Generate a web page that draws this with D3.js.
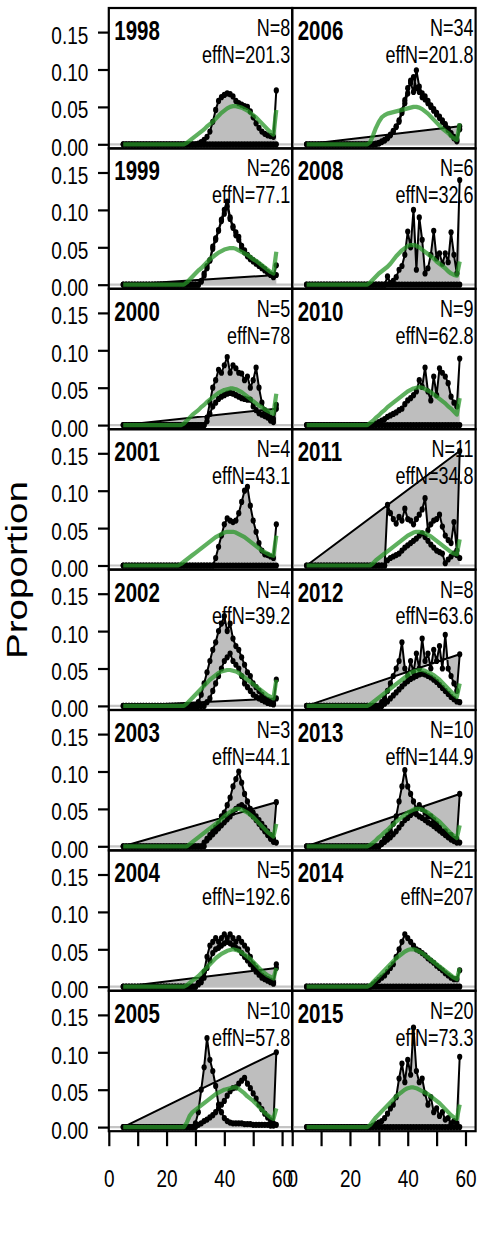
<!DOCTYPE html>
<html>
<head>
<meta charset="utf-8">
<script src="https://cdn.jsdelivr.net/npm/d3@7"></script>
<style>
  body { margin: 0; background: #ffffff; }
  text { font-family: "Liberation Sans", Arial, sans-serif; fill: #000; }
</style>
</head>
<body>
<svg id="chart" width="480" height="1260"></svg>
<script>
// Length bins (cm) shared by every year
const lengthBins = [5,6,7,8,9,10,11,12,13,14,15,16,17,18,19,20,21,22,23,24,25,26,27,28,29,30,31,32,33,34,35,36,37,38,39,40,41,42,43,44,45,46,47,48,49,50,51,52,53,54,55,56,57,58];

const years   = [1998,1999,2000,2001,2002,2003,2004,2005,2006,2008,2010,2011,2012,2013,2014,2015];
const sampleN = [8,26,5,4,4,3,5,10,34,6,9,11,8,10,21,20];
const effN    = ["201.3","77.1","78","43.1","39.2","44.1","192.6","57.8","201.8","32.6","62.8","34.8","63.6","144.9","207","73.3"];

const yTicks = [0, 0.05, 0.10, 0.15];
const xTicks = [0, 10, 20, 30, 40, 50, 60];
const xTickLabels = [0, 20, 40, 60];

// Observed proportions (per mille): first and second sex block; expected fit
const obsA1998 = [0,0,0,0,0,0,0,0,0,0, 0,0,0,0,0,0,0,0,0,0, 0,0,0,0,0,0,0,0,0,0, 0,0,0,0,0,0,0,0,0,0, 0,0,0,0,0,0,0,0,0,0, 0,0,0,0];
const obsB1998 = [0,0,0,0,0,0,0,0,0,0, 0,0,0,0,0,0,0,0,0,0, 0,0,0,0,0,0, 1,3,6,10,17,30,46,58,63,66,68,67,64,58,55,53,51,50,44,36,28,22,17,14,12,11,10,72];
const exp1998  = [0,0,0,0,0,0,0,0,0,0, 0,0,0,0,0,0,0,0,0,0, 0,0, 2,5,8,11,14,17,20,24,27,30,34,38,42,45,48,50,51,51,50,49,47,45,42,39,36,32,28,24,20,16,13,46];

const obsA1999 = [0,0,0,0,0,0,0,0,0,0, 0,0,0,0,0,0,0,0,0,0, 0,0,0,0,0,0,0, 5,15,25,33,51,62,73,87,100,111,90,78,70,64,52,46,40,36,33,30,27,24,21,17,14,12,13];
const obsB1999 = [0,0,0,0,0,0,0,0,0,0, 0,0,0,0,0,0,0,0,0,0, 0,0,0,0,0,0,0, 4,12,22,32,48,60,72,85,95,105,88,76,66,60,48,43,38,34,31,28,25,22,19,16,13,10,26];
const exp1999  = [0,0,0,0,0,0,0,0,0,0, 0,0,0,0,0,0,0,0,0,0, 0,0, 3,7,11,15,19,22,26,30,34,37,40,43,45,47,48,49,49,48,46,44,42,40,37,34,32,29,26,23,20,17,15,44];

const obsA2000 = [0,0,0,0,0,0,0,0,0,0, 0,0,0,0,0,0,0,0,0,0, 0,0,0,0,0,0,0,0,0, 10,30,50,60,74,70,80,91,70,80,76,70,69,60,65,50,60,77,50,30,20,15,10,8,22];
const obsB2000 = [0,0,0,0,0,0,0,0,0,0, 0,0,0,0,0,0,0,0,0,0, 0,0,0,0,0,0,0,0,0, 5,15,25,30,35,38,40,42,43,42,40,38,36,35,34,34,25,20,16,14,12,10,6,4,27];
const exp2000  = [0,0,0,0,0,0,0,0,0,0, 0,0,0,0,0,0,0,0,0,0, 0, 2,6,10,14,17,20,24,27,31,34,37,40,43,45,47,48,49,49,48,46,44,41,38,35,32,29,26,24,21,19,17,15,42];

const obsA2001 = [0,0,0,0,0,0,0,0,0,0, 0,0,0,0,0,0,0,0,0,0, 0,0,0,0,0,0,0,0,0,0, 0,0,0,0,0,0,0,0,0,0, 0,0,0,0,0,0,0,0,0,0, 0,0,0,0];
const obsB2001 = [0,0,0,0,0,0,0,0,0,0, 0,0,0,0,0,0,0,0,0,0, 0,0,0,0,0,0,0,0,0,0, 0,0, 10,25,40,55,63,60,58,60,70,85,100,105,80,60,45,30,20,15,14,12,10,55];
const exp2001  = [0,0,0,0,0,0,0,0,0,0, 0,0,0,0,0,0,0,0,0,0, 2,5,8,11,14,17,20,23,26,29,32,35,38,40,42,44,45,45,45,44,42,40,38,35,32,29,26,23,20,18,16,14,13,40];

const obsA2002 = [0,0,0,0,0,0,0,0,0,0, 0,0,0,0,0,0,0,0,0,0, 0,0,0,0,0,0, 5,15,30,45,60,75,85,100,110,120,100,110,90,80,75,65,55,45,40,30,25,20,15,10,8,5,3,10];
const obsB2002 = [0,0,0,0,0,0,0,0,0,0, 0,0,0,0,0,0,0,0,0,0, 0,0,0,0,0,0,0,0,0, 5,10,20,30,40,50,60,65,70,60,55,50,40,30,25,20,15,12,10,8,6,4,3,2,35];
const exp2002  = [0,0,0,0,0,0,0,0,0,0, 0,0,0,0,0,0,0,0,0,0, 0,0, 3,7,11,15,19,23,27,31,35,38,41,44,46,47,48,48,47,46,44,41,38,35,32,29,26,23,20,17,14,12,10,35];

const obsA2003 = [0,0,0,0,0,0,0,0,0,0, 0,0,0,0,0,0,0,0,0,0, 0,0,0,0,0,0,0,0,0, 10,15,20,25,30,40,45,55,65,80,90,100,85,70,60,50,45,40,35,30,25,20,15,10,59];
const obsB2003 = [0,0,0,0,0,0,0,0,0,0, 0,0,0,0,0,0,0,0,0,0, 0,0,0,0,0,0,0,0, 5,8,12,16,20,24,28,32,36,40,45,50,53,55,52,48,44,40,35,30,25,20,15,10,6,5];
const exp2003  = [0,0,0,0,0,0,0,0,0,0, 0,0,0,0,0,0,0,0,0,0, 0,0,0, 3,6,9,12,15,18,21,24,27,30,33,36,40,43,46,48,50,50,49,47,45,42,39,35,31,27,23,19,16,13,30];

const obsA2004 = [0,0,0,0,0,0,0,0,0,0, 0,0,0,0,0,0,0,0,0,0, 0,0,0,0,0,0, 5,10,20,40,55,60,65,60,65,70,65,70,65,60,65,60,55,50,40,30,25,20,15,12,10,8,6,25];
const obsB2004 = [0,0,0,0,0,0,0,0,0,0, 0,0,0,0,0,0,0,0,0,0, 0,0,0,0,0,0, 3,6,12,25,35,45,50,52,55,58,60,58,55,52,50,45,40,35,30,25,20,16,12,10,8,6,4,30];
const exp2004  = [0,0,0,0,0,0,0,0,0,0, 0,0,0,0,0,0,0,0,0,0, 0,0, 2,5,8,11,14,18,22,26,30,34,38,41,44,46,48,49,50,49,48,46,43,40,37,33,29,25,21,18,15,13,11,25];

const obsA2005 = [0,0,0,0,0,0,0,0,0,0, 0,0,0,0,0,0,0,0,0,0, 0,0,0,0,0, 5,20,50,80,119,90,75,55,30,20,12,8,6,5,5,5,5,4,4,4,3,3,3,3,3,3,2,2,100];
const obsB2005 = [0,0,0,0,0,0,0,0,0,0, 0,0,0,0,0,0,0,0,0,0, 0,0,0,0,0,0, 3,5,8,10,13,16,20,25,30,35,42,48,52,53,58,62,66,58,52,45,38,30,24,18,13,9,5,3];
const exp2005  = [0,0,0,0,0,0,0,0,0,0, 0,0,0,0,0,0,0,0,0,0, 0,0, 6,15,20,23,26,29,32,35,38,41,44,46,48,50,51,52,53,53,51,48,45,41,38,35,31,27,23,19,16,13,11,25];

const obsA2006 = [0,0,0,0,0,0,0,0,0,0, 0,0,0,0,0,0,0,0,0,0, 0,0,0,0, 1,2,4,6,9,13,18,24,32,45,59,75,82,70,99,77,68,64,58,52,47,42,37,32,27,21,15,10,6,24];
const obsB2006 = [0,0,0,0,0,0,0,0,0,0, 0,0,0,0,0,0,0,0,0,0, 0,0,0,0,0, 1,3,5,8,12,17,23,30,42,55,68,85,90,75,70,63,60,55,50,45,40,35,30,25,19,13,8,4,20];
const exp2006  = [0,0,0,0,0,0,0,0,0,0, 0,0,0,0,0,0,0,0,0,0, 0,0, 3,12,22,30,36,39,41,42,43,44,45,46,47,48,49,50,50,49,47,44,41,37,33,29,25,21,18,15,11,8,6,28];

const obsA2008 = [0,0,0,0,0,0,0,0,0,0, 0,0,0,0,0,0,0,0,0,0, 0,0,0,0,0,0,0,0,0,0, 0,0,0,0,0,0,0,0,0,0, 0,0,0,0,0,0,0,0,0,0, 0,0,0,0];
const obsB2008 = [0,0,0,0,0,0,0,0,0,0, 0,0,0,0,0,0,0,0,0,0, 0,0,0,0,0,0,0,0, 11,2,5,10,20,25,40,71,50,100,20,90,60,15,22,40,72,35,42,28,42,30,70,40,15,140];
const exp2008  = [0,0,0,0,0,0,0,0,0,0, 0,0,0,0,0,0,0,0,0,0, 0,0, 3,7,11,15,18,21,24,28,33,38,42,46,49,52,53,53,52,50,47,44,41,38,35,31,28,25,22,18,15,13,12,31];

const obsA2010 = [0,0,0,0,0,0,0,0,0,0, 0,0,0,0,0,0,0,0,0,0, 0,0,0,0,0,0,0,0,0,0, 0,0,0,0,0,0,0,0,0,0, 0,0,0,0,0,0,0,0,0,0, 0,0,0,0];
const obsB2010 = [0,0,0,0,0,0,0,0,0,0, 0,0,0,0,0,0,0,0,0,0, 0,0,0,0, 2,4,6,8,11,13,15,17,20,22,28,33,36,40,45,60,51,77,45,33,65,40,76,70,65,56,38,30,25,89];
const exp2010  = [0,0,0,0,0,0,0,0,0,0, 0,0,0,0,0,0,0,0,0,0, 0,0, 3,6,10,13,17,20,24,27,30,33,36,39,42,45,47,49,50,51,50,48,46,44,41,38,35,32,29,25,22,18,14,36];

const obsA2011 = [0,0,0,0,0,0,0,0,0,0, 0,0,0,0,0,0,0,0,0,0, 0,0,0,0,0,0,0,0, 81,70,62,56,65,60,76,62,60,55,62,68,75,90,47,55,60,62,68,52,40,34,30,58,20,153];
const obsB2011 = [0,0,0,0,0,0,0,0,0,0, 0,0,0,0,0,0,0,0,0,0, 0,0,0,0,0,0,0,0, 7,10,12,14,16,20,24,27,30,33,36,40,43,38,33,28,24,20,18,16,3,8,12,16,14,10];
const exp2011  = [0,0,0,0,0,0,0,0,0,0, 0,0,0,0,0,0,0,0,0,0, 0,0,0, 3,7,10,13,16,19,22,25,28,31,34,37,40,42,44,45,45,44,43,41,39,36,33,30,27,24,21,18,16,15,35];

const obsA2012 = [0,0,0,0,0,0,0,0,0,0, 0,0,0,0,0,0,0,0,0,0, 0,0,0,0,0,0, 5,10,20,30,40,50,60,85,50,40,60,45,70,50,90,60,70,50,75,60,80,50,95,50,40,30,20,69];
const obsB2012 = [0,0,0,0,0,0,0,0,0,0, 0,0,0,0,0,0,0,0,0,0, 0,0,0,0,0,0,0, 3,6,10,14,18,22,26,30,33,36,38,40,42,43,42,40,38,35,32,28,24,20,16,12,9,6,5];
const exp2012  = [0,0,0,0,0,0,0,0,0,0, 0,0,0,0,0,0,0,0,0,0, 0,0, 2,5,8,11,14,17,20,23,26,29,32,35,38,41,44,46,47,48,48,47,45,43,41,38,35,31,27,23,19,15,12,30];

const obsA2013 = [0,0,0,0,0,0,0,0,0,0, 0,0,0,0,0,0,0,0,0,0, 0,0,0,0,0,0, 5,10,15,20,30,40,60,80,102,80,70,60,50,55,50,45,40,40,35,30,25,20,20,15,15,10,10,70];
const obsB2013 = [0,0,0,0,0,0,0,0,0,0, 0,0,0,0,0,0,0,0,0,0, 0,0,0,0,0,0, 3,6,9,12,16,20,25,30,35,38,42,45,43,40,38,35,32,30,27,24,21,18,15,12,9,7,5,5];
const exp2013  = [0,0,0,0,0,0,0,0,0,0, 0,0,0,0,0,0,0,0,0,0, 0,0, 2,5,8,12,15,19,22,26,29,33,36,39,42,45,47,49,50,50,49,47,45,42,39,36,33,29,25,21,17,14,11,28];

const obsA2014 = [0,0,0,0,0,0,0,0,0,0, 0,0,0,0,0,0,0,0,0,0, 0,0,0,0,0,0,0,0,0,0, 0,0,0,0,0,0,0,0,0,0, 0,0,0,0,0,0,0,0,0,0, 0,0,0,0];
const obsB2014 = [0,0,0,0,0,0,0,0,0,0, 0,0,0,0,0,0,0,0,0,0, 0,0,0, 3,6,9,12,15,20,25,30,40,50,60,70,65,60,55,50,48,45,42,38,35,32,28,25,22,18,15,12,10,10,22];
const exp2014  = [0,0,0,0,0,0,0,0,0,0, 0,0,0,0,0,0,0,0,0,0, 0,0, 2,6,10,14,18,22,26,30,34,38,41,44,47,49,50,50,49,47,45,42,39,36,33,30,27,24,21,18,15,12,10,25];

const obsA2015 = [0,0,0,0,0,0,0,0,0,0, 0,0,0,0,0,0,0,0,0,0, 0,0,0,0,0,0,0,0,0,0, 0,0,0,0,0,0,0,0,0,0, 0,0,0,0,0,0,0,0,0,0, 0,0,0,0];
const obsB2015 = [0,0,0,0,0,0,0,0,0,0, 0,0,0,0,0,0,0,0,0,0, 0,0,0, 2,4,6,8,12,18,25,30,40,65,85,60,90,70,133,75,60,65,45,30,40,20,25,15,20,10,12,5,8,5,94];
const exp2015  = [0,0,0,0,0,0,0,0,0,0, 0,0,0,0,0,0,0,0,0,0, 0,0, 3,8,13,17,21,25,29,33,37,41,44,47,50,52,53,53,52,50,48,46,44,41,38,35,32,28,24,20,16,13,11,30];

const seriesByYear = {
  1998: [obsA1998, obsB1998, exp1998], 1999: [obsA1999, obsB1999, exp1999],
  2000: [obsA2000, obsB2000, exp2000], 2001: [obsA2001, obsB2001, exp2001],
  2002: [obsA2002, obsB2002, exp2002], 2003: [obsA2003, obsB2003, exp2003],
  2004: [obsA2004, obsB2004, exp2004], 2005: [obsA2005, obsB2005, exp2005],
  2006: [obsA2006, obsB2006, exp2006], 2008: [obsA2008, obsB2008, exp2008],
  2010: [obsA2010, obsB2010, exp2010], 2011: [obsA2011, obsB2011, exp2011],
  2012: [obsA2012, obsB2012, exp2012], 2013: [obsA2013, obsB2013, exp2013],
  2014: [obsA2014, obsB2014, exp2014], 2015: [obsA2015, obsB2015, exp2015]
};

Object.entries(seriesByYear).forEach(([yr, arrs]) => arrs.forEach((a, k) => {
  if (a.length !== lengthBins.length) throw new Error(`series ${k} of ${yr} has ${a.length} values`);
}));

// ---- layout ----
const svg = d3.select("#chart");
const panelW = 183.4, panelH = 140.4, top0 = 8;
const colLeft = [108.8, 292.2];
const zeroOffset = 136.3, pxPerUnit = 748;   // vertical placement of y = 0 and px per proportion unit
const nRows = 8;

const defs = svg.append("defs");
const lineGen = (x, y) => d3.line().x(d => x(d[0])).y(d => y(d[1]));

years.forEach((yr, i) => {
  const col = Math.floor(i / nRows), row = i % nRows;
  const x0 = colLeft[col], y0 = top0 + row * panelH;

  const x = d3.scaleLinear().domain([0, 63.5]).range([x0, x0 + panelW]);
  const y = d3.scaleLinear()
    .domain([-(panelH - zeroOffset) / pxPerUnit, zeroOffset / pxPerUnit])
    .range([y0 + panelH, y0]);

  const clipId = "clip" + yr;
  defs.append("clipPath").attr("id", clipId)
    .append("rect").attr("x", x0).attr("y", y0).attr("width", panelW).attr("height", panelH);

  const g = svg.append("g").attr("clip-path", `url(#${clipId})`);
  const [a, b, e] = seriesByYear[yr].map(arr => arr.map(v => v / 1000));

  // zero reference line
  g.append("line")
    .attr("x1", x0).attr("x2", x0 + panelW)
    .attr("y1", y(0)).attr("y2", y(0))
    .attr("stroke", "#c4c4c4").attr("stroke-width", 2.2);

  // observed: both sex blocks chained in one sequence
  const obsPts = lengthBins.map((L, j) => [L, a[j]]).concat(lengthBins.map((L, j) => [L, b[j]]));
  const poly = [[lengthBins[0], 0], ...obsPts, [lengthBins[lengthBins.length - 1], 0]];
  g.append("path")
    .attr("d", lineGen(x, y)(poly) + "Z")
    .attr("fill", "#bebebe")
    .attr("fill-rule", "evenodd")
    .attr("stroke", "none");

  g.append("path")
    .attr("d", lineGen(x, y)(obsPts))
    .attr("fill", "none").attr("stroke", "#000").attr("stroke-width", 2)
    .attr("stroke-linejoin", "round");

  g.append("g").selectAll("ellipse").data(obsPts).join("ellipse")
    .attr("cx", d => x(d[0])).attr("cy", d => y(d[1]))
    .attr("rx", 2.6).attr("ry", 3.1).attr("fill", "#000");

  // expected fit
  const expPts = lengthBins.map((L, j) => [L, e[j]]);
  g.append("path")
    .attr("d", lineGen(x, y)(expPts))
    .attr("fill", "none").attr("stroke", "rgba(40,150,40,0.75)")
    .attr("stroke-width", 4.2).attr("stroke-linejoin", "round");

  // panel frame
  svg.append("rect")
    .attr("x", x0).attr("y", y0).attr("width", panelW).attr("height", panelH)
    .attr("fill", "none").attr("stroke", "#000").attr("stroke-width", 2.2);

  // labels
  svg.append("text")
    .attr("transform", `translate(${x0 + 5.5},${y0 + 32}) scale(1,1.32)`)
    .attr("font-size", 20.5).attr("font-weight", "bold")
    .text(yr);
  svg.append("text")
    .attr("transform", `translate(${x0 + panelW - 2},${y0 + 28}) scale(1,1.32)`)
    .attr("font-size", 18).attr("text-anchor", "end")
    .text("N=" + sampleN[i]);
  svg.append("text")
    .attr("transform", `translate(${x0 + panelW - 2},${y0 + 54.7}) scale(1,1.32)`)
    .attr("font-size", 18).attr("text-anchor", "end")
    .text("effN=" + effN[i]);

  // y axis on the left column
  if (col === 0) {
    const ax = svg.append("g").attr("transform", `translate(${x0},0)`)
      .call(d3.axisLeft(y).tickValues(yTicks).tickSize(10.8).tickFormat(d3.format(".2f")));
    ax.select(".domain").remove();
    ax.selectAll(".tick line").attr("stroke", "#000").attr("stroke-width", 2.2);
    ax.selectAll(".tick text")
      .attr("x", null).attr("dy", null)
      .attr("transform", "translate(-20.5,11) scale(1,1.28)")
      .attr("font-size", 19).attr("font-family", null).attr("fill", "#000");
  }

  // x axis under the bottom row
  if (row === nRows - 1) {
    const ax = svg.append("g").attr("transform", `translate(0,${y0 + panelH})`)
      .call(d3.axisBottom(x).tickValues(xTicks).tickSize(15)
        .tickFormat(d => xTickLabels.includes(d) ? d : ""));
    ax.select(".domain").remove();
    ax.selectAll(".tick line").attr("stroke", "#000").attr("stroke-width", 2.2);
    ax.selectAll(".tick text")
      .attr("y", null).attr("dy", null)
      .attr("transform", "translate(0,55.8) scale(1,1.25)")
      .attr("font-size", 19).attr("font-family", null).attr("fill", "#000");
  }
});

// shared y-axis title
svg.append("text")
  .attr("transform", "translate(26.7,570) rotate(-90) scale(1.33,1)")
  .attr("font-size", 29).attr("text-anchor", "middle")
  .text("Proportion");
</script>
</body>
</html>
